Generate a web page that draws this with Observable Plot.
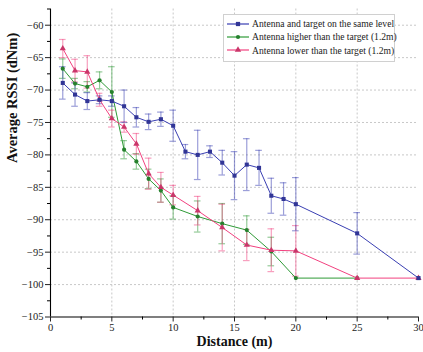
<!DOCTYPE html>
<html><head><meta charset="utf-8">
<script src="https://cdn.jsdelivr.net/npm/d3@7"></script>
<script src="https://cdn.jsdelivr.net/npm/@observablehq/plot@0.6"></script>
<style>
html,body{margin:0;padding:0;background:#fff;}
#wrap{position:relative;width:423px;height:352px;}
#chart svg, #chart svg text{font-family:"Liberation Serif",serif !important;}
#legend{position:absolute;left:223px;top:14px;width:168px;border:1px solid #d0d0d0;background:#fff;padding:2px 0 4px 2px;font:9.6px "Liberation Serif",serif;color:#222;}
#legend .row{display:flex;align-items:center;height:13.3px;white-space:nowrap;}
#legend svg{margin-right:2px;flex:none;}
</style>
</head><body>
<div id="wrap"><div id="chart"></div><div id="legend"></div></div>
<script>
// ---- data ----
const seriesNames = ["Antenna and target on the same level", "Antenna higher than the target (1.2m)", "Antenna lower than the target (1.2m)"];
const seriesColors = ["#3a3fb3", "#2e9a36", "#f2417f"];
const seriesSymbols = ["square", "circle", "triangle"];

const distSame = [1,2,3,4,5,6,7,8,9,10,11,12,13,14,15,16,17,18,19,20,25,30];
const rssiSame = [-68.9,-70.7,-71.7,-71.5,-71.7,-72.5,-74.2,-74.9,-74.5,-75.5,-79.5,-80.0,-79.5,-81.2,-83.2,-81.5,-82.0,-86.3,-86.8,-87.6,-92.1,-99.0];
const errSame  = [2.5,1.8,1.3,0.6,0.8,2.5,1.5,1.2,1.1,2.4,1.1,3.8,0.9,1.9,3.7,4.0,2.7,2.7,2.5,4.1,3.2,0];

const distHigher = [1,2,3,4,5,6,7,8,9,10,12,14,16,18,20,25];
const rssiHigher = [-66.7,-69.0,-69.5,-68.5,-70.3,-79.2,-81.0,-83.7,-85.5,-88.1,-89.5,-90.6,-91.6,-94.9,-99.0,-99.0];
const errHigher  = [1.5,0.8,0.8,1.3,3.9,1.4,1.2,1.5,1.8,1.8,2.4,3.1,2.2,2.2,0,0];

const distLower = [1,2,3,4,5,6,7,8,9,10,12,14,16,18,20,25,30];
const rssiLower = [-63.6,-67.0,-67.2,-71.5,-74.4,-75.7,-78.3,-82.9,-85.0,-86.2,-88.6,-91.2,-93.9,-94.7,-94.8,-99.0,-99.0];
const errLower  = [1.4,1.75,2.5,1.0,1.3,0.8,1.6,2.4,2.3,1.5,2.2,3.6,2.4,3.3,3.9,0,0];

const xMajorTicks = [0,5,10,15,20,25,30];
const xMinorTicks = [2.5,7.5,12.5,17.5,22.5,27.5];
const yMajorTicks = [-60,-65,-70,-75,-80,-85,-90,-95,-100,-105];
const yMinorTicks = [-57.5,-62.5,-67.5,-72.5,-77.5,-82.5,-87.5,-92.5,-97.5,-102.5];

// ---- build ----
const FONT = "Liberation Serif, serif";
const mk = (xs, ys, es, k) => xs.map((x, i) => ({x, y: ys[i], e: es[i], k}));
const series = [
  mk(distHigher, rssiHigher, errHigher, 1),
  mk(distLower, rssiLower, errLower, 2),
  mk(distSame, rssiSame, errSame, 0)
];
const cap = 0.27;
const marks = [
  Plot.gridX(xMajorTicks.filter(t => t > 0 && t < 30), {stroke: "#c8c8c8", strokeOpacity: 1, strokeDasharray: "2,2"}),
  Plot.gridY(yMajorTicks.filter(t => t > -105), {stroke: "#c8c8c8", strokeOpacity: 1, strokeDasharray: "2,2"}),
];
for (const s of series) {
  const c = seriesColors[s[0].k];
  const eb = s.filter(d => d.e > 0);
  marks.push(
    Plot.ruleX(eb, {x: "x", y1: d => d.y - d.e, y2: d => d.y + d.e, stroke: c, strokeOpacity: 0.5, strokeWidth: 1.2}),
    Plot.ruleY(eb, {y: d => d.y - d.e, x1: d => d.x - cap, x2: d => d.x + cap, stroke: c, strokeOpacity: 0.5, strokeWidth: 1.2}),
    Plot.ruleY(eb, {y: d => d.y + d.e, x1: d => d.x - cap, x2: d => d.x + cap, stroke: c, strokeOpacity: 0.5, strokeWidth: 1.2})
  );
}
for (const s of series) {
  const k = s[0].k;
  marks.push(
    Plot.line(s, {x: "x", y: "y", stroke: seriesColors[k], strokeWidth: 1}),
    Plot.dot(s, {x: "x", y: "y", symbol: seriesSymbols[k], r: k === 1 ? 2.1 : 2.3, fill: d3.color(seriesColors[k]).darker(0.5).formatHex(), stroke: "none"})
  );
}
marks.push(
  Plot.ruleX([0], {stroke: "#000", strokeWidth: 1.1}),
  Plot.ruleY([-105], {stroke: "#000", strokeWidth: 1.1}),
  Plot.axisX(xMajorTicks, {tickSize: 5, tickPadding: 2, label: null, fontSize: 10.5, fontFamily: FONT, color: "#222"}),
  Plot.axisX(xMinorTicks, {tickSize: 3, text: null, label: null}),
  Plot.axisY(yMajorTicks, {tickSize: 5, tickPadding: 2, label: null, fontSize: 10.5, fontFamily: FONT, color: "#222"}),
  Plot.axisY(yMinorTicks, {tickSize: 3, text: null, label: null}),
  Plot.text(["Distance (m)"], {frameAnchor: "bottom", dy: 29, fontWeight: "bold", fontSize: 14, fontFamily: FONT, fill: "#111"}),
  Plot.text(["Average RSSI (dNm)"], {frameAnchor: "left", dx: -38, rotate: -90, fontWeight: "bold", fontSize: 14.5, fontFamily: FONT, fill: "#111"})
);

const chart = Plot.plot({
  width: 423, height: 352,
  marginLeft: 50, marginRight: 5, marginTop: 8.5, marginBottom: 35.5,
  x: {domain: [0, 30]},
  y: {domain: [-105, -57.5]},
  style: {fontSize: "10.5px", background: "#fff", overflow: "visible"},
  marks
});
document.getElementById("chart").appendChild(chart);

// legend
const lg = document.getElementById("legend");
const ns = "http://www.w3.org/2000/svg";
[0, 1, 2].forEach(k => {
  const row = document.createElement("div");
  row.className = "row";
  const sv = document.createElementNS(ns, "svg");
  sv.setAttribute("width", 24); sv.setAttribute("height", 8);
  const ln = document.createElementNS(ns, "line");
  ln.setAttribute("x1", 1); ln.setAttribute("x2", 23); ln.setAttribute("y1", 4); ln.setAttribute("y2", 4);
  ln.setAttribute("stroke", seriesColors[k]); ln.setAttribute("stroke-width", 1.2);
  sv.appendChild(ln);
  const sym = d3.symbol(k === 0 ? d3.symbolSquare : k === 1 ? d3.symbolCircle : d3.symbolTriangle, k === 1 ? 14 : 18)();
  const p = document.createElementNS(ns, "path");
  p.setAttribute("d", sym); p.setAttribute("transform", "translate(12,4)");
  p.setAttribute("fill", d3.color(seriesColors[k]).darker(0.5).formatHex());
  sv.appendChild(p);
  row.appendChild(sv);
  const t = document.createElement("span");
  t.textContent = seriesNames[k];
  row.appendChild(t);
  lg.appendChild(row);
});
</script>
</body></html>
